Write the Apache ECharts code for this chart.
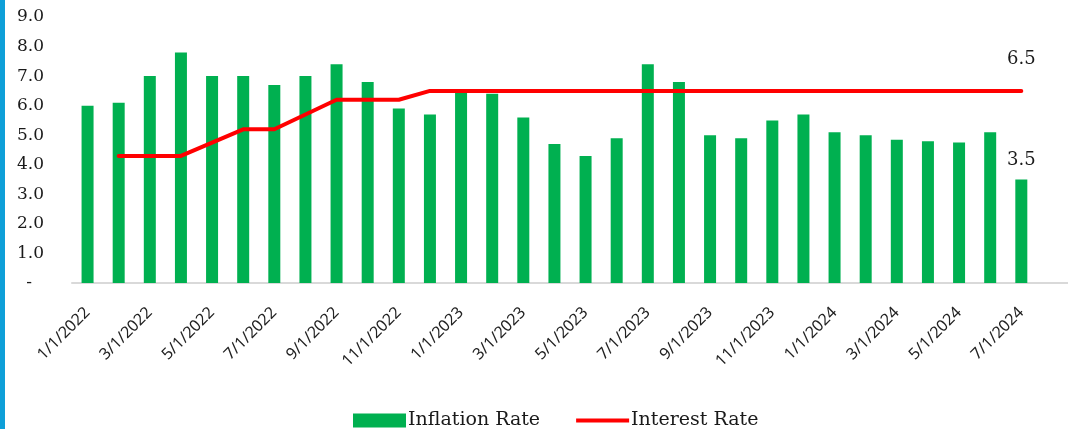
<!DOCTYPE html>
<html>
<head>
    <meta charset="utf-8" />
    <title></title>
    <script src="https://cdn.jsdelivr.net/npm/echarts@6/dist/echarts.min.js"></script>
</head>
<body style="margin:0;">
    <div id="main" style="width: 1068px;height:429px;"></div>
    <script type="text/javascript">
        var months = ['1/1/2022', '2/1/2022', '3/1/2022', '4/1/2022', '5/1/2022', '6/1/2022', '7/1/2022', '8/1/2022',
            '9/1/2022', '10/1/2022', '11/1/2022', '12/1/2022', '1/1/2023', '2/1/2023', '3/1/2023', '4/1/2023',
            '5/1/2023', '6/1/2023', '7/1/2023', '8/1/2023', '9/1/2023', '10/1/2023', '11/1/2023', '12/1/2023',
            '1/1/2024', '2/1/2024', '3/1/2024', '4/1/2024', '5/1/2024', '6/1/2024', '7/1/2024'];
        var inflation = [6.0, 6.1, 7.0, 7.8, 7.0, 7.0, 6.7, 7.0, 7.4, 6.8, 5.9, 5.7,
            6.5, 6.4, 5.6, 4.7, 4.3, 4.9, 7.4, 6.8, 5.0, 4.9, 5.5, 5.7,
            5.1, 5.0, 4.85, 4.8, 4.75, 5.1, 3.5];
        var interest = [null, 4.3, 4.3, 4.3, 4.75, 5.2, 5.2, 5.7, 6.2, 6.2, 6.2, 6.5,
            6.5, 6.5, 6.5, 6.5, 6.5, 6.5, 6.5, 6.5, 6.5, 6.5, 6.5, 6.5,
            6.5, 6.5, 6.5, 6.5, 6.5, 6.5, 6.5];
        var yTicks = { min: 0, max: 9, step: 1 };

        var serif = 'DejaVu Serif';
        var last = months.length - 1;

        var barData = inflation.map(function (v, i) {
            if (i !== last) return v;
            return { value: v, label: { show: true, position: 'top', distance: 10 } };
        });
        var lineData = interest.map(function (v, i) {
            if (i !== last) return v;
            return { value: v, label: { show: true, position: 'top', distance: 22 } };
        });

        // thin bar used as the legend mark of the red line
        var lineIcon = 'path://M0,0L0.01,0M0,5L54,5L54,9L0,9ZM54,14L53.99,14';

        var myChart = echarts.init(document.getElementById('main'));
        var option = {
            animation: false,
            backgroundColor: '#fff',
            grid: { left: 72, top: 17, width: 999, height: 266 },
            legend: {
                left: 348,
                top: 406,
                itemWidth: 53,
                itemHeight: 14,
                itemGap: 36,
                textStyle: { fontFamily: serif, fontSize: 19, color: '#1a1a1a', padding: [0, 0, 0, -3] },
                data: [
                    { name: 'Inflation Rate', icon: 'rect' },
                    { name: 'Interest Rate', icon: lineIcon, itemStyle: { color: '#FF0000' } }
                ]
            },
            xAxis: {
                type: 'category',
                data: months,
                max: months.length,
                axisLine: { lineStyle: { color: '#D9D9D9', width: 2 } },
                axisTick: { interval: 1, length: 7, lineStyle: { color: '#D9D9D9', width: 2 } },
                axisLabel: {
                    interval: 1,
                    rotate: 45,
                    margin: 27,
                    fontFamily: 'Noto Sans',
                    fontSize: 16,
                    color: '#222'
                }
            },
            yAxis: {
                type: 'value',
                min: yTicks.min,
                max: yTicks.max,
                interval: yTicks.step,
                splitLine: { show: false },
                axisLine: { show: false },
                axisTick: { show: false },
                axisLabel: {
                    margin: 28,
                    fontFamily: serif,
                    fontSize: 17,
                    color: '#1a1a1a',
                    formatter: function (v) {
                        return v === 0 ? '{d|-}' : v.toFixed(1);
                    },
                    rich: { d: { fontFamily: serif, fontSize: 17, padding: [0, 12, 0, 0] } }
                }
            },
            series: [
                {
                    name: 'Inflation Rate',
                    type: 'bar',
                    barWidth: 12,
                    itemStyle: { color: '#00B050' },
                    label: { fontFamily: serif, fontSize: 18, color: '#1a1a1a' },
                    data: barData
                },
                {
                    name: 'Interest Rate',
                    type: 'line',
                    symbol: 'circle',
                    symbolSize: 1,
                    showSymbol: true,
                    connectNulls: false,
                    lineStyle: { color: '#FF0000', width: 4, cap: 'round', join: 'round' },
                    itemStyle: { color: '#FF0000' },
                    label: { fontFamily: serif, fontSize: 18, color: '#1a1a1a' },
                    data: lineData
                }
            ],
            graphic: [
                { type: 'rect', left: 0, top: 0, shape: { width: 5, height: 429 }, style: { fill: '#0E9FD8' } }
            ]
        };
        myChart.setOption(option);
    </script>
</body>
</html>
